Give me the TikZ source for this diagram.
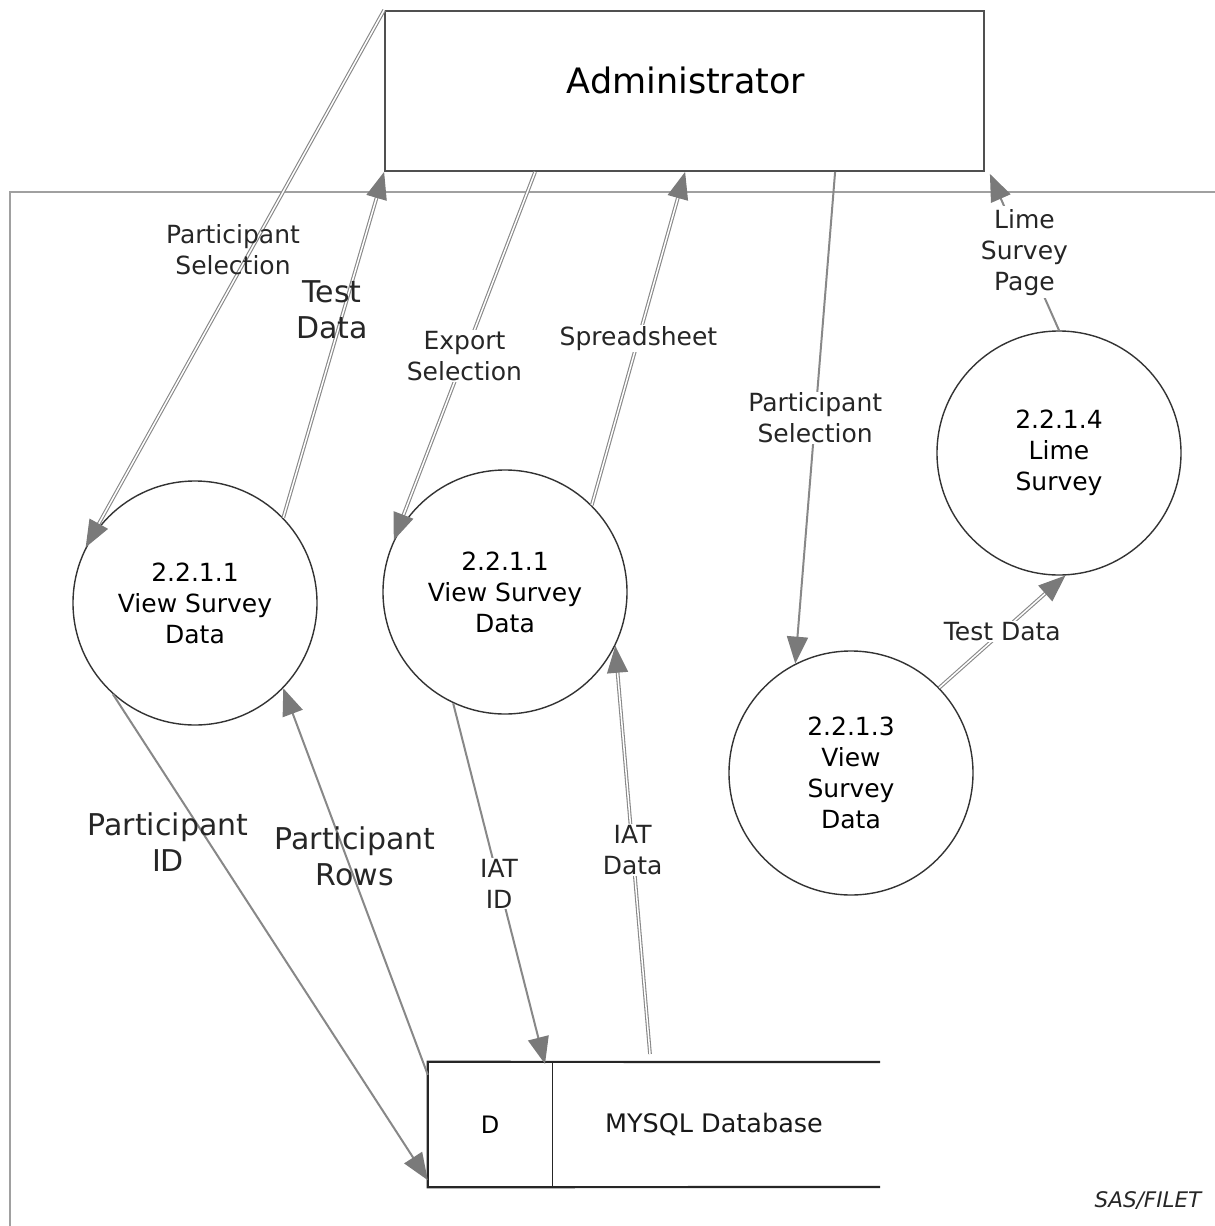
\documentclass[tikz,border=0pt]{standalone}
\usepackage{fontspec}
\setmainfont{DejaVu Sans}
\usetikzlibrary{arrows.meta,calc}
\definecolor{flowgray}{HTML}{888888}
\definecolor{tipgray}{HTML}{7A7A7A}
\definecolor{txtgray}{HTML}{262626}
\definecolor{boxgray}{HTML}{505050}
\definecolor{framegray}{HTML}{A0A0A0}
\begin{document}
\begin{tikzpicture}[x=1pt,y=-1pt,
  smalltxt/.style={font=\fontsize{25pt}{31pt}\selectfont, text=txtgray, align=center, inner sep=1pt},
  bigtxt/.style={font=\fontsize{30pt}{36pt}\selectfont, text=txtgray, align=center, inner sep=1pt},
  opaque/.style={fill=white},
  proc/.style={circle, draw=black!80, line width=1.4pt, minimum size=244pt, inner sep=0pt,
     font=\fontsize{25pt}{31pt}\selectfont, text=black, align=center},
  adminbox/.style={rectangle, draw=boxgray, line width=1.8pt, minimum width=599pt, minimum height=160pt, inner sep=0pt},
  flowsingle/.style={draw=flowgray, line width=2pt},
  flowdouble/.style={draw=flowgray, double=white, double distance=1.5pt, line width=1.1pt},
  tipped/.style={-{Triangle[length=27pt,width=21pt,fill=tipgray,color=tipgray]}},
]
\path[use as bounding box] (0,0) rectangle (1215,1226);

% outer frame
\draw[framegray, line width=1.6pt] (10,1230) -- (10,192) -- (1220,192);

% administrator
\node[adminbox] (admin) at (684.5,91) {};
\node[font=\fontsize{35pt}{40pt}\selectfont, text=black] (admintxt) at (686,80) {Administrator};

% processes
\node[proc] (c1) at (195,603) {2.2.1.1\\View Survey\\Data};
\node[proc] (c2) at (505,592) {2.2.1.1\\View Survey\\Data};
\node[proc] (c3) at (851,773) {2.2.1.3\\View\\Survey\\Data};
\node[proc] (c4) at (1059,453) {2.2.1.4\\Lime\\Survey};

% data store
\node[minimum width=124pt, minimum height=125pt, inner sep=0pt,
      font=\fontsize{24pt}{28pt}\selectfont] (dbd) at (490,1124.5) {D};
\node[font=\fontsize{25.5pt}{30pt}\selectfont, text=black!90] (dbname) at (714,1124) {MYSQL Database};
\coordinate (dbtl) at (dbd.north west);
\coordinate (dbbl) at (dbd.south west);
\coordinate (dbtr) at (880,1062);
\coordinate (dbbr) at (880,1187);
\draw[black!85, line width=2.2pt] (dbtr) -- (dbtl) -- (dbbl) -- (dbbr);
\draw[black!85, line width=1.3pt] (dbd.north east) -- (dbd.south east);

\coordinate (dbPidIn) at ($(dbbl)+(0,-7)$);
\coordinate (dbRowsOut) at ($(dbtl)+(0,13)$);
\coordinate (dbIatIn) at (545,1064);
\coordinate (dbIatOut) at (650,1054);

% flows
\draw[flowdouble, tipped] (admin.north west) -- (c1.153);
\node[smalltxt] (lps1) at (233,250) {Participant\\Selection};
\draw[flowdouble, tipped] (c1.44) -- (admin.south west);
\node[bigtxt] (ltd1) at (332,310) {Test\\Data};
\draw[flowdouble, tipped] ($(admin.south west)+(151,0)$) -- (c2.155)
   node[midway, smalltxt, opaque] (les) {Export\\Selection};
\draw[flowdouble, tipped] (c2.45) -- ($(admin.south west)+(301,0)$)
   node[midway, smalltxt, opaque] (lsp) {Spreadsheet};
\draw[flowsingle, tipped] ($(admin.south west)+(451,0)$) -- (c3.117)
   node[midway, smalltxt, opaque] (lps2) {Participant\\Selection};
\draw[flowsingle, tipped] (c4.90) -- ($(admin.south east)+(5,2)$)
   node[midway, smalltxt, opaque, inner sep=3pt] (llsp) {Lime\\Survey\\Page};
\draw[flowdouble, tipped] (c3.44) -- (c4.-87)
   node[midway, smalltxt, opaque] (ltd2) {Test Data};
\draw[flowsingle, tipped] (c1.228) -- (dbPidIn);
\node[bigtxt] (lpid) at (168,842) {Participant\\ID};
\draw[flowsingle, tipped] (dbRowsOut) -- (c1.-44);
\node[bigtxt] (lrows) at (355,856) {Participant\\Rows};
\draw[flowsingle, tipped] (c2.245) -- (dbIatIn)
   node[midway, smalltxt, opaque] (liid) {IAT\\ID};
\draw[flowdouble, tipped] (dbIatOut) -- (c2.-26)
   node[midway, smalltxt, opaque] (lidata) {IAT\\Data};

\node[font=\itshape\fontsize{21.5pt}{24pt}\selectfont, text=txtgray] (sas) at (1148,1201) {SAS/FILET};
\end{tikzpicture}
\end{document}
